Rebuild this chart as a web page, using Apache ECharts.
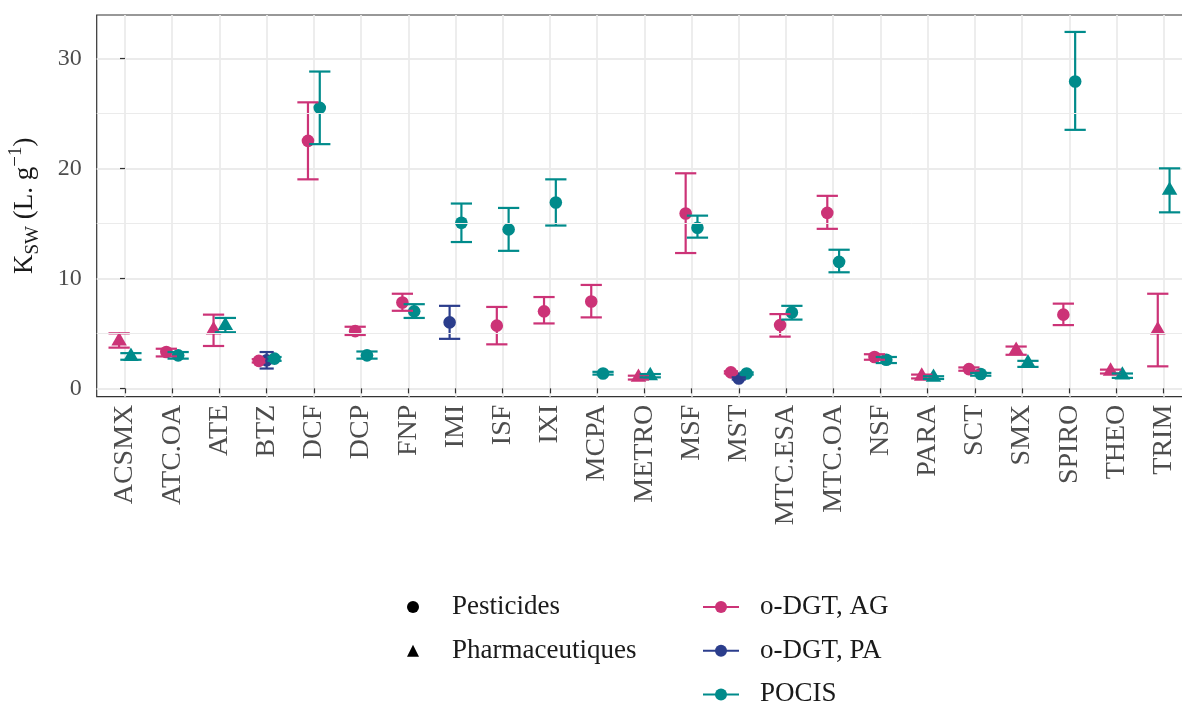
<!DOCTYPE html>
<html>
<head>
<meta charset="utf-8">
<script src="https://cdn.jsdelivr.net/npm/echarts@6/dist/echarts.min.js"></script>
<style>
  html, body { margin: 0; padding: 0; background: #ffffff; }
  #chart { width: 1182px; height: 706px; }
</style>
</head>
<body>
<div id="chart"></div>
<script>
// Compounds on the x axis and their family (drives the marker shape)
const categories = ['ACSMX', 'ATC.OA', 'ATE', 'BTZ', 'DCF', 'DCP', 'FNP', 'IMI', 'ISF', 'IXI', 'MCPA', 'METRO',
  'MSF', 'MST', 'MTC.ESA', 'MTC.OA', 'NSF', 'PARA', 'SCT', 'SMX', 'SPIRO', 'THEO', 'TRIM'];
const compoundClass = ['Pharmaceutiques', 'Pesticides', 'Pharmaceutiques', 'Pesticides', 'Pesticides', 'Pesticides',
  'Pesticides', 'Pesticides', 'Pesticides', 'Pesticides', 'Pesticides', 'Pharmaceutiques', 'Pesticides', 'Pesticides',
  'Pesticides', 'Pesticides', 'Pesticides', 'Pharmaceutiques', 'Pesticides', 'Pharmaceutiques', 'Pesticides',
  'Pharmaceutiques', 'Pharmaceutiques'];

// Ksw (L/g): mean, lower and upper bound per sampler
const agMean = [4.3, 3.3, 5.3, 2.5, 22.5, 5.2, 7.8, null, 5.7, 7.0, 7.9, 1.0, 15.9, 1.45, 5.75, 15.95, 2.85, 1.1, 1.75, 3.45, 6.7, 1.55, 5.3];
const agLow  = [3.7, 2.9, 3.85, 2.35, 19.0, 4.85, 7.05, null, 4.0, 5.9, 6.45, 0.8, 12.3, 1.35, 4.7, 14.5, 2.6, 0.9, 1.6, 3.05, 5.75, 1.35, 2.0];
const agHigh = [5.0, 3.6, 6.7, 2.65, 26.0, 5.6, 8.6, null, 7.4, 8.3, 9.4, 1.15, 19.55, 1.55, 6.75, 17.5, 3.1, 1.25, 1.9, 3.8, 7.7, 1.7, 8.6];

const paMean = [null, null, null, 2.55, null, null, null, 6.0, null, null, null, null, null, 0.9, null, null, null, null, null, null, null, null, null];
const paLow  = [null, null, null, 1.8, null, null, null, 4.5, null, null, null, null, null, 0.8, null, null, null, null, null, null, null, null, null];
const paHigh = [null, null, null, 3.3, null, null, null, 7.5, null, null, null, null, null, 1.0, null, null, null, null, null, null, null, null, null];

const pocisMean = [2.9, 3.0, 5.7, 2.7, 25.5, 3.0, 7.0, 15.05, 14.45, 16.9, 1.35, 1.15, 14.6, 1.35, 6.9, 11.5, 2.6, 1.0, 1.3, 2.3, 27.9, 1.2, 18.0];
const pocisLow  = [2.6, 2.7, 5.1, 2.5, 22.2, 2.7, 6.4, 13.3, 12.5, 14.8, 1.25, 1.0, 13.7, 1.25, 6.25, 10.55, 2.3, 0.85, 1.15, 1.95, 23.5, 0.95, 16.0];
const pocisHigh = [3.2, 3.3, 6.4, 2.85, 28.8, 3.35, 7.65, 16.8, 16.4, 19.0, 1.5, 1.3, 15.7, 1.45, 7.5, 12.6, 2.85, 1.1, 1.4, 2.5, 32.4, 1.35, 20.0];

const yTicks = [0, 10, 20, 30];
const yMinorLines = [5, 15, 25];

const FONT = 'Liberation Serif';
const samplers = [
  { name: 'o-DGT, AG', color: '#CC3377', mean: agMean, low: agLow, high: agHigh },
  { name: 'o-DGT, PA', color: '#2B3D8C', mean: paMean, low: paLow, high: paHigh },
  { name: 'POCIS', color: '#008B8B', mean: pocisMean, low: pocisLow, high: pocisHigh }
];

// Dodge the samplers present at each compound
const DODGE = 0.5, BAR_WIDTH = 0.9;
function samplerData(s) {
  const out = [];
  categories.forEach((c, i) => {
    if (s.mean[i] == null) return;
    const present = samplers.filter(g => g.mean[i] != null);
    const n = present.length, k = present.indexOf(s);
    const x = i - DODGE / 2 + DODGE / n * (k + 0.5);
    out.push([x, s.mean[i], s.low[i], s.high[i], BAR_WIDTH / n / 2, compoundClass[i] === 'Pharmaceutiques' ? 1 : 0]);
  });
  return out;
}

function pointRenderer(color) {
  return function (params, api) {
    const p = api.coord([api.value(0), api.value(1)]);
    if (api.value(5) === 1) {
      const w = 15.5, h = 13.4;
      return {
        type: 'polygon',
        shape: { points: [[p[0], p[1] - 2 * h / 3], [p[0] + w / 2, p[1] + h / 3], [p[0] - w / 2, p[1] + h / 3]] },
        style: { fill: color }
      };
    }
    return { type: 'circle', shape: { cx: p[0], cy: p[1], r: 6.3 }, style: { fill: color } };
  };
}

function errorBarRenderer(color) {
  return function (params, api) {
    const x = api.value(0);
    const top = api.coord([x, api.value(3)]);
    const bot = api.coord([x, api.value(2)]);
    const half = api.size([api.value(4), 0])[0];
    const st = { stroke: color, lineWidth: 2.2 };
    return {
      type: 'group',
      children: [
        { type: 'line', shape: { x1: top[0], y1: top[1], x2: bot[0], y2: bot[1] }, style: st },
        { type: 'line', shape: { x1: top[0] - half, y1: top[1], x2: top[0] + half, y2: top[1] }, style: st },
        { type: 'line', shape: { x1: bot[0] - half, y1: bot[1], x2: bot[0] + half, y2: bot[1] }, style: st }
      ]
    };
  };
}

const series = [];
// minor horizontal grid lines
series.push({
  type: 'line', name: 'grid-minor', data: [], z: 1, silent: true,
  markLine: {
    silent: true, symbol: 'none', animation: false, label: { show: false },
    lineStyle: { color: '#EBEBEB', width: 1, type: 'solid' },
    data: yMinorLines.map(v => ({ yAxis: v }))
  }
});
// points: PA first, then AG, then POCIS
[1, 0, 2].forEach(k => {
  const s = samplers[k];
  series.push({ type: 'custom', name: s.name + ' pts', data: samplerData(s), renderItem: pointRenderer(s.color), z: 3, silent: true });
});
// error bars on top
samplers.forEach(s => {
  series.push({ type: 'custom', name: s.name + ' err', data: samplerData(s), renderItem: errorBarRenderer(s.color), z: 4, silent: true });
});
// legend entries
series.push({ type: 'line', name: 'Pesticides', data: [], symbol: 'circle', color: '#000000' });
series.push({ type: 'line', name: 'Pharmaceutiques', data: [], symbol: 'triangle', color: '#000000' });
samplers.forEach(s => {
  series.push({ type: 'line', name: s.name, data: [], symbol: 'circle', color: s.color, lineStyle: { width: 2.5, color: s.color } });
});

const legendText = { fontFamily: FONT, fontSize: 27, color: '#1A1A1A', lineHeight: 30, padding: [0, 0, 0, 16] };

const option = {
  animation: false,
  textStyle: { fontFamily: FONT },
  grid: {
    left: 96.7, right: -10, top: 15, bottom: 309.3,
    show: true, borderColor: '#333333', borderWidth: 1.2, backgroundColor: 'transparent',
    outerBoundsMode: 'none'
  },
  xAxis: {
    type: 'value', min: -0.6, max: 22.6,
    axisLine: { show: false },
    axisTick: { show: true, length: 5, lineStyle: { color: '#333333', width: 1.2 }, customValues: categories.map((c, i) => i) },
    axisLabel: {
      customValues: categories.map((c, i) => i),
      formatter: v => categories[Math.round(v)],
      rotate: 90, fontSize: 28, color: '#4D4D4D', margin: 8, fontFamily: FONT
    },
    splitLine: { show: true, lineStyle: { color: '#EBEBEB', width: 1.8 } }
  },
  yAxis: {
    type: 'value', min: -0.76, max: 33.94,
    axisLine: { show: false },
    axisTick: { show: true, length: 5, lineStyle: { color: '#333333', width: 1.2 }, customValues: yTicks },
    axisLabel: { customValues: yTicks, fontSize: 24, color: '#4D4D4D', margin: 15, fontFamily: FONT },
    splitLine: { show: true, lineStyle: { color: '#EBEBEB', width: 1.8 } },
    name: '{m|K}{s|SW}{m| (L. g}{u|\u22121}{m|)}',
    nameLocation: 'middle', nameRotate: 90, nameGap: 54,
    nameTextStyle: {
      fontFamily: FONT, color: '#1A1A1A', fontSize: 27,
      rich: {
        m: { fontFamily: FONT, fontSize: 27, lineHeight: 36, color: '#1A1A1A' },
        s: { fontFamily: FONT, fontSize: 19, lineHeight: 28, verticalAlign: 'bottom', color: '#1A1A1A' },
        u: { fontFamily: FONT, fontSize: 19, lineHeight: 11, verticalAlign: 'top', color: '#1A1A1A' }
      }
    }
  },
  legend: [
    {
      data: ['Pesticides', 'Pharmaceutiques'], orient: 'vertical', left: 395, top: 592, height: 150, padding: 0,
      itemWidth: 36, itemHeight: 15, itemGap: 13.7, selectedMode: false,
      lineStyle: { width: 0, color: 'rgba(0,0,0,0)', opacity: 0 },
      textStyle: legendText
    },
    {
      data: samplers.map(s => s.name), orient: 'vertical', left: 702, top: 592, height: 150, padding: 0,
      itemWidth: 36, itemHeight: 15, itemGap: 13.7, selectedMode: false,
      textStyle: legendText
    }
  ],
  series: series
};

const chart = echarts.init(document.getElementById('chart'), null, { renderer: 'canvas' });
chart.setOption(option);
</script>
</body>
</html>
